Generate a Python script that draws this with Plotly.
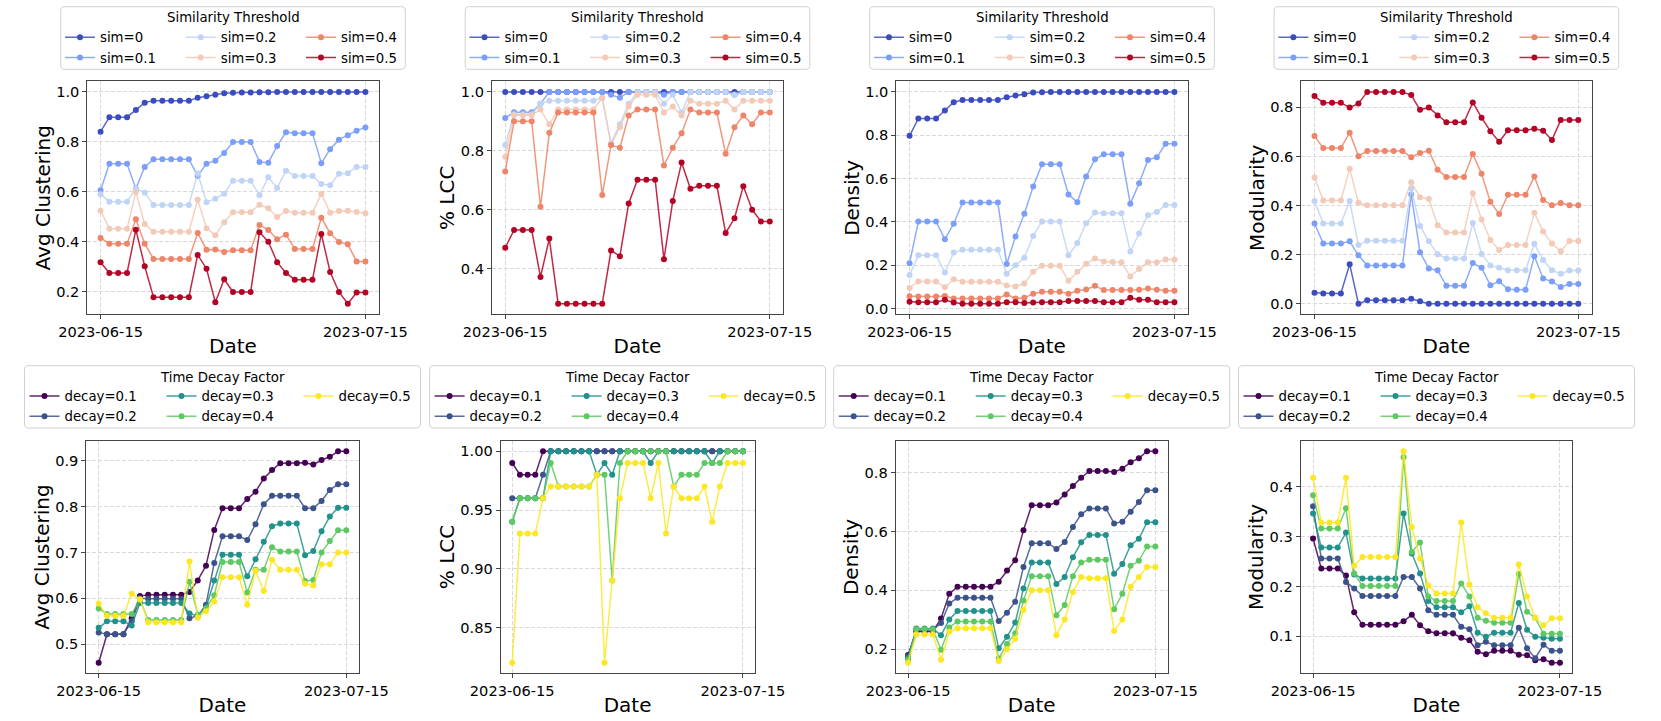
import pandas as pd
import plotly.graph_objects as go

W, H = 1661, 721
FONT = "DejaVu Sans"

# ---------------- categories / labels ----------------
dates = pd.date_range("2023-06-15", "2023-07-15", freq="D")
x_ticks = ["2023-06-15", "2023-07-15"]
x_range = ["2023-06-13 12:00", "2023-07-16 12:00"]

sim_labels = ["sim=0", "sim=0.1", "sim=0.2", "sim=0.3", "sim=0.4", "sim=0.5"]
decay_labels = ["decay=0.1", "decay=0.2", "decay=0.3", "decay=0.4", "decay=0.5"]
sim_colors = ["#3b4cc0", "#7b9ef9", "#c0d4f5", "#f2cab7", "#ee8468", "#b40426"]
decay_colors = ["#440154", "#3b528b", "#21918c", "#5ec962", "#fde725"]

# ---------------- Avg Clustering vs similarity threshold ----------------
clust_sim_0 = [0.841, 0.899, 0.899, 0.899, 0.928, 0.957, 0.965, 0.965, 0.965, 0.965, 0.965, 0.977, 0.983, 0.989, 0.995, 0.997, 0.998, 0.998, 0.999, 0.999, 1.0, 1.0, 1.0, 1.0, 1.0, 1.0, 1.0, 1.0, 1.0, 1.0, 1.0]
clust_sim_1 = [0.607, 0.713, 0.713, 0.713, 0.613, 0.700, 0.731, 0.731, 0.731, 0.731, 0.731, 0.664, 0.713, 0.725, 0.756, 0.800, 0.800, 0.800, 0.720, 0.717, 0.784, 0.839, 0.835, 0.835, 0.835, 0.715, 0.771, 0.809, 0.827, 0.845, 0.858]
clust_sim_2 = [0.591, 0.561, 0.561, 0.561, 0.613, 0.597, 0.548, 0.548, 0.548, 0.548, 0.548, 0.675, 0.559, 0.573, 0.593, 0.645, 0.645, 0.645, 0.587, 0.659, 0.616, 0.685, 0.664, 0.664, 0.664, 0.632, 0.627, 0.673, 0.675, 0.700, 0.700]
clust_sim_3 = [0.525, 0.453, 0.453, 0.453, 0.600, 0.472, 0.441, 0.441, 0.441, 0.441, 0.441, 0.569, 0.455, 0.427, 0.479, 0.519, 0.519, 0.519, 0.549, 0.535, 0.500, 0.524, 0.517, 0.517, 0.517, 0.592, 0.517, 0.524, 0.525, 0.520, 0.515]
clust_sim_4 = [0.416, 0.393, 0.393, 0.393, 0.491, 0.393, 0.332, 0.332, 0.332, 0.332, 0.332, 0.436, 0.369, 0.370, 0.360, 0.367, 0.367, 0.367, 0.468, 0.448, 0.411, 0.429, 0.372, 0.372, 0.372, 0.497, 0.435, 0.400, 0.391, 0.322, 0.322]
clust_sim_5 = [0.319, 0.276, 0.276, 0.276, 0.449, 0.303, 0.179, 0.179, 0.179, 0.179, 0.179, 0.348, 0.293, 0.159, 0.251, 0.200, 0.200, 0.200, 0.439, 0.401, 0.319, 0.276, 0.249, 0.249, 0.249, 0.432, 0.280, 0.200, 0.153, 0.198, 0.198]

# ---------------- % LCC vs similarity threshold ----------------
lcc_sim_0 = [1.0, 1.0, 1.0, 1.0, 1.0, 1.0, 1.0, 1.0, 1.0, 1.0, 1.0, 1.0, 1.0, 1.0, 1.0, 1.0, 1.0, 1.0, 1.0, 1.0, 1.0, 1.0, 1.0, 1.0, 1.0, 1.0, 1.0, 1.0, 1.0, 1.0, 1.0]
lcc_sim_1 = [0.911, 0.931, 0.931, 0.931, 0.960, 1.0, 1.0, 1.0, 1.0, 1.0, 1.0, 1.0, 0.990, 0.980, 1.0, 1.0, 1.0, 1.0, 0.990, 1.0, 1.0, 1.0, 1.0, 1.0, 1.0, 1.0, 0.990, 1.0, 1.0, 1.0, 1.0]
lcc_sim_2 = [0.820, 0.924, 0.924, 0.924, 0.960, 0.970, 0.970, 0.970, 0.970, 0.970, 0.970, 0.980, 0.826, 0.890, 0.960, 1.0, 1.0, 1.0, 0.960, 0.990, 0.930, 1.0, 1.0, 1.0, 1.0, 1.0, 0.990, 1.0, 1.0, 1.0, 1.0]
lcc_sim_3 = [0.780, 0.921, 0.921, 0.921, 0.940, 0.890, 0.940, 0.940, 0.940, 0.940, 0.940, 0.980, 0.820, 0.880, 0.950, 0.990, 0.990, 0.990, 0.930, 0.950, 0.920, 0.970, 0.960, 0.960, 0.960, 0.970, 0.940, 0.970, 0.970, 0.970, 0.970]
lcc_sim_4 = [0.730, 0.900, 0.900, 0.900, 0.610, 0.861, 0.930, 0.930, 0.930, 0.930, 0.930, 0.650, 0.820, 0.810, 0.920, 0.940, 0.940, 0.940, 0.750, 0.810, 0.860, 0.940, 0.930, 0.930, 0.930, 0.790, 0.880, 0.920, 0.890, 0.930, 0.930]
lcc_sim_5 = [0.471, 0.531, 0.531, 0.531, 0.372, 0.502, 0.281, 0.281, 0.281, 0.281, 0.281, 0.281, 0.462, 0.442, 0.621, 0.702, 0.702, 0.702, 0.432, 0.630, 0.760, 0.671, 0.681, 0.681, 0.681, 0.521, 0.571, 0.680, 0.600, 0.560, 0.560]

# ---------------- Density vs similarity threshold ----------------
dens_sim_0 = [0.797, 0.877, 0.877, 0.877, 0.914, 0.952, 0.962, 0.962, 0.962, 0.962, 0.962, 0.975, 0.983, 0.989, 0.997, 0.998, 0.999, 0.999, 1.0, 1.0, 1.0, 1.0, 1.0, 1.0, 1.0, 1.0, 1.0, 1.0, 1.0, 1.0, 1.0]
dens_sim_1 = [0.209, 0.402, 0.402, 0.402, 0.320, 0.391, 0.489, 0.489, 0.489, 0.489, 0.489, 0.205, 0.332, 0.437, 0.563, 0.666, 0.666, 0.666, 0.526, 0.491, 0.609, 0.689, 0.712, 0.712, 0.712, 0.483, 0.578, 0.686, 0.698, 0.760, 0.760]
dens_sim_2 = [0.154, 0.246, 0.246, 0.246, 0.166, 0.258, 0.271, 0.271, 0.271, 0.271, 0.271, 0.160, 0.200, 0.234, 0.335, 0.402, 0.402, 0.402, 0.246, 0.302, 0.394, 0.443, 0.440, 0.440, 0.440, 0.263, 0.346, 0.431, 0.445, 0.478, 0.478]
dens_sim_3 = [0.095, 0.125, 0.125, 0.125, 0.098, 0.135, 0.123, 0.123, 0.123, 0.123, 0.123, 0.106, 0.102, 0.115, 0.169, 0.197, 0.197, 0.197, 0.128, 0.169, 0.206, 0.231, 0.217, 0.215, 0.214, 0.148, 0.182, 0.214, 0.213, 0.226, 0.226]
dens_sim_4 = [0.057, 0.055, 0.055, 0.055, 0.058, 0.046, 0.046, 0.046, 0.046, 0.046, 0.046, 0.065, 0.046, 0.049, 0.068, 0.077, 0.077, 0.077, 0.068, 0.082, 0.088, 0.105, 0.085, 0.085, 0.085, 0.085, 0.086, 0.092, 0.086, 0.082, 0.082]
dens_sim_5 = [0.031, 0.029, 0.029, 0.029, 0.040, 0.028, 0.022, 0.022, 0.022, 0.022, 0.022, 0.029, 0.029, 0.025, 0.028, 0.029, 0.029, 0.029, 0.034, 0.034, 0.034, 0.034, 0.029, 0.029, 0.029, 0.049, 0.040, 0.040, 0.029, 0.029, 0.029]

# ---------------- Modularity vs similarity threshold ----------------
mod_sim_0 = [0.045, 0.042, 0.042, 0.042, 0.161, 0.0, 0.014, 0.014, 0.014, 0.014, 0.014, 0.020, 0.010, 0.0, 0.0, 0.0, 0.0, 0.0, 0.0, 0.0, 0.0, 0.0, 0.0, 0.0, 0.0, 0.0, 0.0, 0.0, 0.0, 0.0, 0.0]
mod_sim_1 = [0.327, 0.245, 0.245, 0.245, 0.254, 0.197, 0.156, 0.156, 0.156, 0.156, 0.156, 0.445, 0.210, 0.143, 0.136, 0.073, 0.073, 0.073, 0.166, 0.146, 0.075, 0.091, 0.059, 0.057, 0.057, 0.193, 0.103, 0.090, 0.068, 0.080, 0.080]
mod_sim_2 = [0.418, 0.327, 0.327, 0.327, 0.418, 0.239, 0.257, 0.257, 0.257, 0.257, 0.257, 0.469, 0.317, 0.254, 0.201, 0.184, 0.184, 0.184, 0.329, 0.203, 0.156, 0.146, 0.136, 0.136, 0.136, 0.244, 0.178, 0.136, 0.122, 0.135, 0.135]
mod_sim_3 = [0.514, 0.420, 0.420, 0.420, 0.550, 0.411, 0.401, 0.401, 0.401, 0.401, 0.401, 0.495, 0.434, 0.427, 0.320, 0.290, 0.290, 0.290, 0.450, 0.343, 0.260, 0.219, 0.239, 0.239, 0.239, 0.371, 0.294, 0.245, 0.214, 0.256, 0.256]
mod_sim_4 = [0.683, 0.634, 0.634, 0.634, 0.697, 0.601, 0.622, 0.622, 0.622, 0.622, 0.622, 0.597, 0.614, 0.623, 0.546, 0.516, 0.516, 0.516, 0.610, 0.529, 0.415, 0.365, 0.444, 0.444, 0.444, 0.518, 0.423, 0.401, 0.410, 0.401, 0.401]
mod_sim_5 = [0.846, 0.819, 0.819, 0.819, 0.799, 0.816, 0.863, 0.863, 0.863, 0.863, 0.863, 0.850, 0.790, 0.799, 0.767, 0.739, 0.739, 0.739, 0.820, 0.758, 0.703, 0.660, 0.707, 0.707, 0.707, 0.713, 0.705, 0.667, 0.748, 0.748, 0.748]

# ---------------- Avg Clustering vs time decay ----------------
clust_dec_1 = [0.460, 0.522, 0.522, 0.522, 0.557, 0.605, 0.608, 0.608, 0.608, 0.608, 0.608, 0.614, 0.639, 0.671, 0.749, 0.796, 0.796, 0.796, 0.816, 0.832, 0.861, 0.879, 0.894, 0.894, 0.894, 0.895, 0.891, 0.901, 0.908, 0.920, 0.920]
clust_dec_2 = [0.526, 0.522, 0.522, 0.522, 0.550, 0.600, 0.599, 0.599, 0.599, 0.599, 0.599, 0.557, 0.562, 0.586, 0.677, 0.735, 0.735, 0.735, 0.727, 0.761, 0.805, 0.823, 0.823, 0.823, 0.823, 0.796, 0.796, 0.812, 0.836, 0.848, 0.848]
clust_dec_3 = [0.536, 0.550, 0.550, 0.550, 0.541, 0.590, 0.590, 0.590, 0.590, 0.590, 0.590, 0.567, 0.562, 0.580, 0.639, 0.695, 0.695, 0.695, 0.648, 0.685, 0.723, 0.757, 0.763, 0.763, 0.763, 0.694, 0.703, 0.746, 0.778, 0.797, 0.797]
clust_dec_4 = [0.578, 0.566, 0.566, 0.566, 0.566, 0.597, 0.553, 0.553, 0.553, 0.553, 0.553, 0.636, 0.565, 0.578, 0.607, 0.679, 0.679, 0.679, 0.613, 0.662, 0.662, 0.711, 0.702, 0.702, 0.702, 0.638, 0.640, 0.700, 0.725, 0.748, 0.748]
clust_dec_5 = [0.589, 0.562, 0.562, 0.562, 0.610, 0.598, 0.548, 0.548, 0.548, 0.548, 0.548, 0.680, 0.558, 0.572, 0.593, 0.646, 0.646, 0.646, 0.586, 0.660, 0.616, 0.684, 0.662, 0.662, 0.662, 0.632, 0.628, 0.674, 0.674, 0.700, 0.700]

# ---------------- % LCC vs time decay ----------------
lcc_dec_1 = [0.99, 0.98, 0.98, 0.98, 1.0, 1.0, 1.0, 1.0, 1.0, 1.0, 1.0, 1.0, 1.0, 1.0, 1.0, 1.0, 1.0, 1.0, 1.0, 1.0, 1.0, 1.0, 1.0, 1.0, 1.0, 1.0, 1.0, 1.0, 1.0, 1.0, 1.0]
lcc_dec_2 = [0.96, 0.96, 0.96, 0.96, 0.98, 1.0, 1.0, 1.0, 1.0, 1.0, 1.0, 1.0, 1.0, 1.0, 1.0, 1.0, 1.0, 1.0, 1.0, 1.0, 1.0, 1.0, 1.0, 1.0, 1.0, 1.0, 1.0, 1.0, 1.0, 1.0, 1.0]
lcc_dec_3 = [0.94, 0.96, 0.96, 0.96, 0.96, 1.0, 1.0, 1.0, 1.0, 1.0, 1.0, 0.98, 0.99, 0.98, 1.0, 1.0, 1.0, 1.0, 0.99, 1.0, 1.0, 1.0, 1.0, 1.0, 1.0, 1.0, 0.99, 1.0, 1.0, 1.0, 1.0]
lcc_dec_4 = [0.94, 0.96, 0.96, 0.96, 0.96, 0.99, 0.97, 0.97, 0.97, 0.97, 0.97, 0.98, 0.98, 0.89, 0.99, 1.0, 1.0, 1.0, 1.0, 1.0, 1.0, 0.97, 0.98, 0.98, 0.98, 0.99, 0.99, 0.99, 1.0, 1.0, 1.0]
lcc_dec_5 = [0.82, 0.93, 0.93, 0.93, 0.96, 0.97, 0.97, 0.97, 0.97, 0.97, 0.97, 0.98, 0.82, 0.89, 0.96, 0.99, 0.99, 0.99, 0.96, 0.99, 0.93, 0.97, 0.96, 0.96, 0.96, 0.97, 0.94, 0.97, 0.99, 0.99, 0.99]

# ---------------- Density vs time decay ----------------
dens_dec_1 = [0.180, 0.260, 0.260, 0.260, 0.304, 0.388, 0.412, 0.412, 0.412, 0.412, 0.412, 0.429, 0.467, 0.502, 0.604, 0.689, 0.689, 0.689, 0.698, 0.725, 0.754, 0.782, 0.805, 0.805, 0.805, 0.802, 0.813, 0.835, 0.848, 0.872, 0.872]
dens_dec_2 = [0.176, 0.265, 0.265, 0.265, 0.289, 0.355, 0.375, 0.375, 0.375, 0.375, 0.375, 0.296, 0.324, 0.361, 0.479, 0.560, 0.560, 0.560, 0.540, 0.564, 0.615, 0.658, 0.678, 0.678, 0.678, 0.627, 0.633, 0.667, 0.700, 0.740, 0.740]
dens_dec_3 = [0.169, 0.270, 0.270, 0.270, 0.247, 0.301, 0.330, 0.330, 0.330, 0.330, 0.330, 0.203, 0.242, 0.291, 0.406, 0.494, 0.494, 0.494, 0.421, 0.445, 0.512, 0.563, 0.588, 0.588, 0.588, 0.456, 0.489, 0.553, 0.575, 0.631, 0.631]
dens_dec_4 = [0.164, 0.268, 0.268, 0.268, 0.198, 0.274, 0.294, 0.294, 0.294, 0.294, 0.294, 0.168, 0.218, 0.254, 0.365, 0.448, 0.448, 0.448, 0.315, 0.350, 0.448, 0.494, 0.504, 0.504, 0.504, 0.336, 0.388, 0.483, 0.500, 0.549, 0.549]
dens_dec_5 = [0.154, 0.250, 0.250, 0.250, 0.164, 0.259, 0.271, 0.271, 0.271, 0.271, 0.271, 0.160, 0.200, 0.236, 0.333, 0.400, 0.400, 0.400, 0.247, 0.301, 0.394, 0.445, 0.441, 0.441, 0.441, 0.262, 0.301, 0.412, 0.445, 0.479, 0.479]

# ---------------- Modularity vs time decay ----------------
mod_dec_1 = [0.296, 0.236, 0.236, 0.236, 0.222, 0.148, 0.123, 0.123, 0.123, 0.123, 0.123, 0.130, 0.143, 0.122, 0.110, 0.106, 0.106, 0.106, 0.097, 0.092, 0.069, 0.064, 0.071, 0.071, 0.071, 0.063, 0.062, 0.052, 0.054, 0.047, 0.047]
mod_dec_2 = [0.361, 0.256, 0.256, 0.256, 0.209, 0.196, 0.181, 0.181, 0.181, 0.181, 0.181, 0.219, 0.219, 0.196, 0.152, 0.143, 0.143, 0.143, 0.119, 0.114, 0.082, 0.089, 0.082, 0.082, 0.082, 0.117, 0.076, 0.056, 0.083, 0.071, 0.071]
mod_dec_3 = [0.346, 0.278, 0.278, 0.278, 0.308, 0.224, 0.216, 0.216, 0.216, 0.216, 0.216, 0.346, 0.266, 0.226, 0.171, 0.158, 0.158, 0.158, 0.148, 0.160, 0.107, 0.099, 0.107, 0.107, 0.107, 0.167, 0.113, 0.099, 0.097, 0.095, 0.095]
mod_dec_4 = [0.383, 0.316, 0.316, 0.316, 0.357, 0.226, 0.201, 0.201, 0.201, 0.201, 0.201, 0.459, 0.269, 0.288, 0.180, 0.171, 0.171, 0.171, 0.206, 0.180, 0.137, 0.131, 0.127, 0.127, 0.127, 0.225, 0.149, 0.137, 0.105, 0.105, 0.105]
mod_dec_5 = [0.418, 0.328, 0.328, 0.328, 0.418, 0.241, 0.259, 0.259, 0.259, 0.259, 0.259, 0.471, 0.319, 0.256, 0.202, 0.186, 0.186, 0.186, 0.328, 0.204, 0.158, 0.146, 0.137, 0.137, 0.137, 0.244, 0.180, 0.137, 0.122, 0.136, 0.136]

panels = [
    dict(kind="sim", ylabel="Avg Clustering", fmt=".1f", dtick=0.2,
         series=[clust_sim_0, clust_sim_1, clust_sim_2, clust_sim_3, clust_sim_4, clust_sim_5]),
    dict(kind="sim", ylabel="% LCC", fmt=".1f", dtick=0.2,
         series=[lcc_sim_0, lcc_sim_1, lcc_sim_2, lcc_sim_3, lcc_sim_4, lcc_sim_5]),
    dict(kind="sim", ylabel="Density", fmt=".1f", dtick=0.2,
         series=[dens_sim_0, dens_sim_1, dens_sim_2, dens_sim_3, dens_sim_4, dens_sim_5]),
    dict(kind="sim", ylabel="Modularity", fmt=".1f", dtick=0.2,
         series=[mod_sim_0, mod_sim_1, mod_sim_2, mod_sim_3, mod_sim_4, mod_sim_5]),
    dict(kind="decay", ylabel="Avg Clustering", fmt=".1f", dtick=0.1,
         series=[clust_dec_1, clust_dec_2, clust_dec_3, clust_dec_4, clust_dec_5]),
    dict(kind="decay", ylabel="% LCC", fmt=".2f", dtick=0.05,
         series=[lcc_dec_1, lcc_dec_2, lcc_dec_3, lcc_dec_4, lcc_dec_5]),
    dict(kind="decay", ylabel="Density", fmt=".1f", dtick=0.2,
         series=[dens_dec_1, dens_dec_2, dens_dec_3, dens_dec_4, dens_dec_5]),
    dict(kind="decay", ylabel="Modularity", fmt=".1f", dtick=0.1,
         series=[mod_dec_1, mod_dec_2, mod_dec_3, mod_dec_4, mod_dec_5]),
]

# ---------------- layout geometry (pixels) ----------------
px_x = [(87.3, 378.7), (492.0, 783.0), (896.3, 1187.7), (1301.3, 1591.5),
        (86.3, 358.7), (500.7, 754.5), (895.7, 1167.7), (1300.7, 1572.3)]
top_y = (81.3, 314.3)
bot_y = (440.7, 673.3)
leg_geo = {
    "sim": dict(half=172.3, top=6.7, bottom=69.3, title_y=17.5, row1=37.3,
                cols=[4.3, 125.0, 245.3], title="Similarity Threshold"),
    "decay": dict(half=198.0, top=365.7, bottom=428.0, title_y=377.0, row1=396.0,
                  cols=[5.0, 142.0, 279.0], title="Time Decay Factor"),
}


def rgba(hexc, a):
    h = hexc.lstrip("#")
    return "rgba(%d,%d,%d,%.2f)" % (int(h[0:2], 16), int(h[2:4], 16), int(h[4:6], 16), a)


def px2paper(x, y):
    return x / W, 1 - y / H


fig = go.Figure()
layout = dict(
    width=W, height=H,
    margin=dict(l=0, r=0, t=0, b=0),
    paper_bgcolor="white", plot_bgcolor="white",
    font=dict(family=FONT, color="black", size=14.6),
    showlegend=True,
    shapes=[], annotations=[],
)

axis_common = dict(
    showline=True, mirror=True, linecolor="#444444", linewidth=1,
    ticks="outside", ticklen=4, tickwidth=1, tickcolor="#444444",
    showgrid=True, gridcolor="#d9d9d9", gridwidth=0.8, griddash="4px,2px",
    zeroline=False, automargin=False,
    tickfont=dict(family=FONT, size=14.6, color="black"),
)

for p, panel in enumerate(panels):
    ax = p + 1
    sfx = "" if ax == 1 else str(ax)
    labels = sim_labels if panel["kind"] == "sim" else decay_labels
    colors = sim_colors if panel["kind"] == "sim" else decay_colors
    for i, (lab, vals) in enumerate(zip(labels, panel["series"])):
        k = p * 3 + i // 2 + 1
        legname = "legend" if k == 1 else "legend%d" % k
        fig.add_trace(go.Scatter(
            x=dates, y=vals, mode="lines+markers", name=lab,
            line=dict(color=rgba(colors[i], 0.85), width=1.5),
            marker=dict(color=colors[i], size=6, line=dict(width=0)),
            xaxis="x" + sfx, yaxis="y" + sfx, legend=legname, showlegend=True,
        ))

    allv = [v for s in panel["series"] for v in s]
    lo, hi = min(allv), max(allv)
    pad = 0.05 * (hi - lo)
    x0, x1 = px_x[p]
    yt, yb = top_y if p < 4 else bot_y
    layout["xaxis" + sfx] = dict(
        axis_common, domain=[x0 / W, x1 / W], anchor="y" + sfx,
        type="date", range=x_range, tickvals=x_ticks, tickformat="%Y-%m-%d",
        title=dict(text="Date", font=dict(family=FONT, size=20, color="black"), standoff=0),
    )
    layout["yaxis" + sfx] = dict(
        axis_common, domain=[1 - yb / H, 1 - yt / H], anchor="x" + sfx,
        range=[lo - pad, hi + pad], tick0=0, dtick=panel["dtick"], tickformat=panel["fmt"],
        title=dict(text=panel["ylabel"], font=dict(family=FONT, size=20, color="black"), standoff=0),
    )

    # legend: box, title and three columns
    g = leg_geo[panel["kind"]]
    cx = (x0 + x1) / 2
    bl, br = cx - g["half"], cx + g["half"]
    bt, bb = g["top"], g["bottom"]
    r = 4.0
    pts = [
        ("M", [(bl + r, bt)]), ("L", [(br - r, bt)]), ("Q", [(br, bt), (br, bt + r)]),
        ("L", [(br, bb - r)]), ("Q", [(br, bb), (br - r, bb)]), ("L", [(bl + r, bb)]),
        ("Q", [(bl, bb), (bl, bb - r)]), ("L", [(bl, bt + r)]), ("Q", [(bl, bt), (bl + r, bt)]),
    ]
    path = ""
    for cmd, coords in pts:
        path += cmd + " ".join("%.5f,%.5f" % px2paper(xx, yy) for xx, yy in coords) + " "
    path += "Z"
    layout["shapes"].append(dict(
        type="path", path=path, xref="paper", yref="paper", layer="below",
        line=dict(color="#d0d0d0", width=1), fillcolor="rgba(255,255,255,0.8)",
    ))
    tx, ty = px2paper(cx, g["title_y"])
    layout["annotations"].append(dict(
        text=g["title"], x=tx, y=ty, xref="paper", yref="paper",
        xanchor="center", yanchor="middle", showarrow=False,
        font=dict(family=FONT, size=13.3, color="black"),
    ))
    for c in range(3):
        k = p * 3 + c + 1
        legname = "legend" if k == 1 else "legend%d" % k
        lx, ly = px2paper(bl + g["cols"][c] - 5, g["row1"] - 15.15)
        layout[legname] = dict(
            x=lx, y=ly, xanchor="left", yanchor="top", xref="paper", yref="paper",
            orientation="v", bgcolor="rgba(0,0,0,0)", borderwidth=0,
            tracegroupgap=0, itemclick=False, itemdoubleclick=False,
            font=dict(family=FONT, size=13.3, color="black"),
        )

fig.update_layout(**layout)
fig.write_html(
    "out.html",
    config={"displayModeBar": False},
    post_script=("document.body.style.margin='0px';"
                 "document.body.style.overflow='hidden';"
                 "document.documentElement.style.overflow='hidden';"),
)
